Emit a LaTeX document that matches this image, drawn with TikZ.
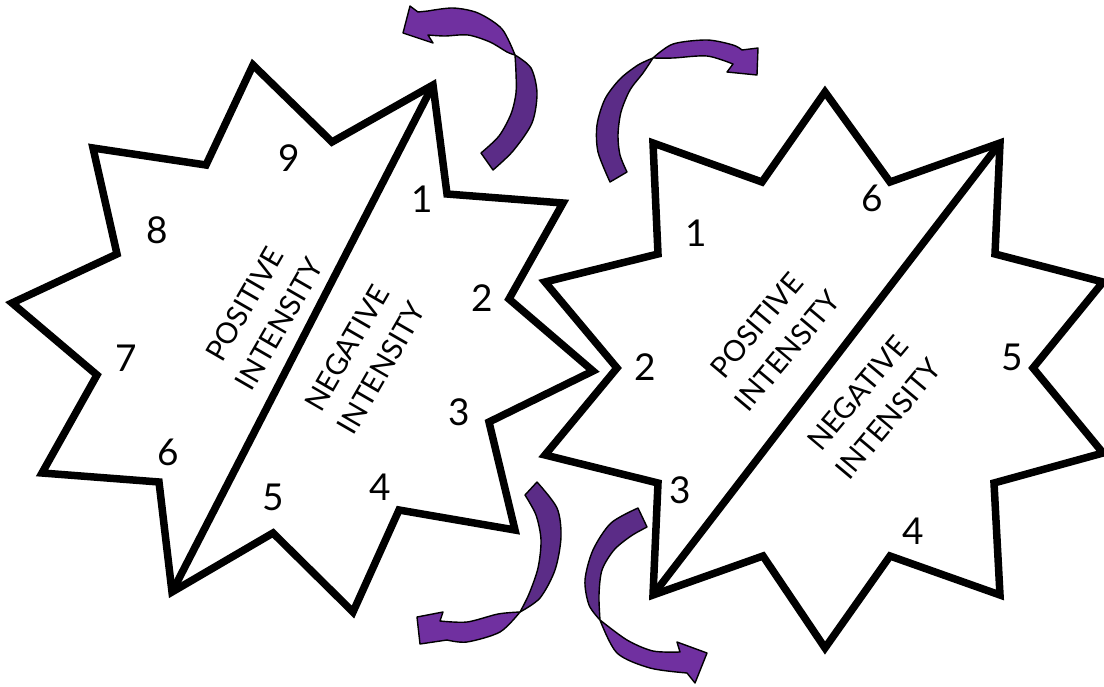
\documentclass[tikz,border=0pt]{standalone}
\usepackage{fontspec}
\setmainfont{Lato}
\definecolor{arrowdark}{HTML}{5B2C87}
\definecolor{arrowlight}{HTML}{7030A0}
\begin{document}
\begin{tikzpicture}[x=1pt,y=-1pt,
  star/.style={line width=7.5pt, line join=miter, draw=black, fill=white},
  diag/.style={line width=7.5pt, draw=black},
  num/.style={font=\fontsize{37}{42}\selectfont, inner sep=0pt},
  lbl/.style={font=\fontsize{29}{40}\selectfont, align=center, inner sep=0pt},
  arrdark/.style={fill=arrowdark, draw=black, line width=1.4pt, line join=round},
  arrlight/.style={fill=arrowlight, draw=black, line width=1.4pt, line join=round}]
\useasboundingbox (0,0) rectangle (1104,686);
% left star
\draw[star] (253,65) -- (332,142) -- (433,85) -- (447,194) -- (563,203) -- (509,299) -- (593,371) -- (489,422) -- (515,530) -- (399,510) -- (353,612) -- (273,533) -- (172,592) -- (159,482) -- (42,473) -- (97,375) -- (12,303) -- (117,254) -- (93,148) -- (206,165) -- cycle;
\coordinate (LT) at (433,85);
\coordinate (LB) at (172,592);
\draw[diag] (LT) -- (LB);
% right star
\draw[star] (825,92) -- (890,182) -- (1000,143) -- (995,254) -- (1103,282) -- (1033,368) -- (1103,453) -- (994,483) -- (1000,595) -- (890,556) -- (825,648) -- (763,556) -- (653,595) -- (658,483) -- (545,455) -- (617,368) -- (545,282) -- (658,254) -- (653,143) -- (762,182) -- cycle;
\coordinate (RT) at (1000,143);
\coordinate (RB) at (653,595);
\draw[diag] (RT) -- (RB);
% left numbers
\node[num] (l9) at (289,158) {9};
\node[num] (l1) at (422,199) {1};
\node[num] (l8) at (157,230) {8};
\node[num] (l2) at (482,298) {2};
\node[num] (l7) at (126,358) {7};
\node[num] (l3) at (459,412) {3};
\node[num] (l6) at (168,452) {6};
\node[num] (l5) at (273,497) {5};
\node[num] (l4) at (380,487) {4};
% right numbers
\node[num] (r1) at (696,233) {1};
\node[num] (r6) at (872,198) {6};
\node[num] (r2) at (645,367) {2};
\node[num] (r5) at (1012,357) {5};
\node[num] (r3) at (680,490) {3};
\node[num] (r4) at (913,531) {4};
% labels
\node[lbl, rotate=60] (lpos) at (262,314) {POSITIVE\\INTENSITY};
\node[lbl, rotate=60] (lneg) at (364,358) {NEGATIVE\\INTENSITY};
\node[lbl, rotate=50] (rpos) at (772,338) {POSITIVE\\INTENSITY};
\node[lbl, rotate=50] (rneg) at (873,406) {NEGATIVE\\INTENSITY};
% arrow 1 top-left
\filldraw[arrdark] (481,153) -- plot[smooth] coordinates {(481,153) (499,136) (511,114) (516,93) (516,73) (515,55)} -- plot[smooth] coordinates {(515,55) (531,68) (537,93) (532,123) (513,151) (493,170)} -- cycle;
\filldraw[arrlight] (515,55) -- plot[smooth] coordinates {(515,55) (502,29) (478,13) (453,8) (428,11)} -- (418,12) -- (410,6) -- (403,33) -- (433,43) -- (428,35) -- plot[smooth] coordinates {(428,35) (445,36) (468,35) (490,42) (507,52) (515,55)} -- cycle;
% arrow 2 top-right
\filldraw[arrdark] (610,182) -- plot[smooth] coordinates {(610,182) (598,152) (597,125) (605,99) (620,79) (638,65) (653,58)} -- plot[smooth] coordinates {(653,58) (643,73) (630,90) (621,112) (618,135) (620,155) (627,172)} -- cycle;
\filldraw[arrlight] (653,58) -- plot[smooth] coordinates {(653,58) (673,44) (707,40) (733,45) (742,50)} -- (758,48) -- (757,75) -- (727,72) -- (733,64) -- plot[smooth] coordinates {(733,64) (707,56) (673,58) (653,58)} -- cycle;
% arrow 3 bottom-left
\filldraw[arrdark] (525,495) -- plot[smooth] coordinates {(525,495) (536,515) (541,540) (538,568) (529,594) (520,612)} -- plot[smooth] coordinates {(520,612) (540,598) (555,570) (561,537) (557,508) (537,482)} -- cycle;
\filldraw[arrlight] (520,612) -- plot[smooth] coordinates {(520,612) (500,632) (467,642) (447,640)} -- (420,644) -- (417,617) -- (443,612) -- (440,621) -- plot[smooth] coordinates {(440,621) (467,622) (498,614) (520,612)} -- cycle;
% arrow 4 bottom-right
\filldraw[arrdark] (638,508) -- plot[smooth] coordinates {(638,508) (611,523) (593,550) (585,580) (589,605) (600,620)} -- plot[smooth] coordinates {(600,620) (599,595) (602,570) (614,550) (631,536) (647,527)} -- cycle;
\filldraw[arrlight] (600,620) -- plot[smooth] coordinates {(600,620) (617,653) (650,668) (687,673)} -- (695,683) -- (707,653) -- (677,642) -- (680,652) -- plot[smooth] coordinates {(680,652) (653,651) (627,640) (600,620)} -- cycle;
\end{tikzpicture}
\end{document}
